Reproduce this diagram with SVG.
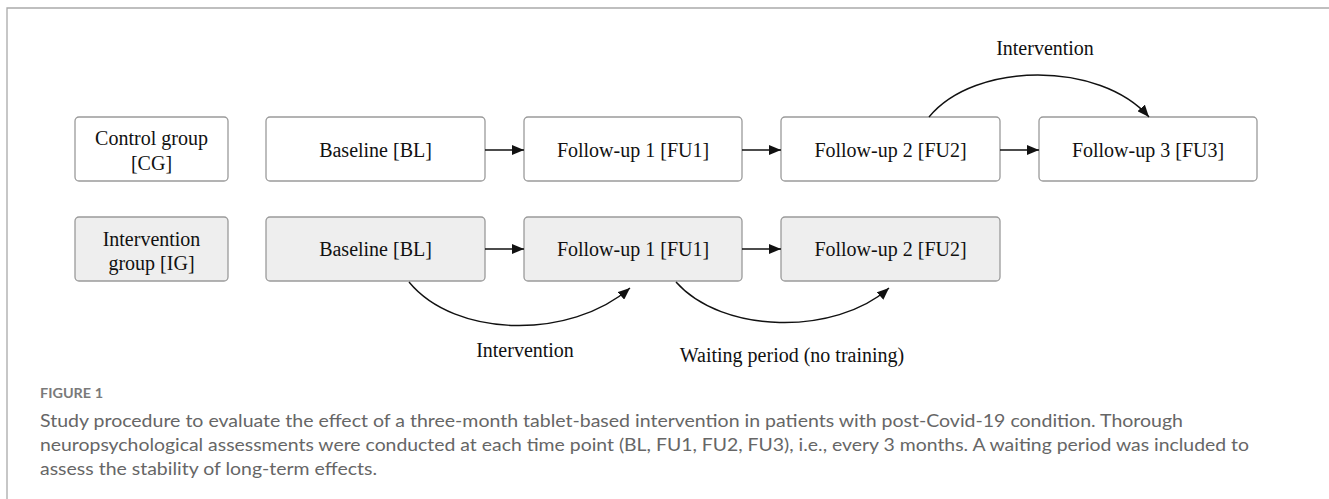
<svg xmlns="http://www.w3.org/2000/svg" width="1329" height="499" viewBox="0 0 1329 499">
<style>
.box{fill:#fff;stroke:#9a9a9a;stroke-width:1.3}
.boxg{fill:#eeeeee;stroke:#9a9a9a;stroke-width:1.3}
.t{font-family:"Liberation Serif","Times New Roman",serif;font-size:20px;fill:#111;text-anchor:middle}
.c{fill:none;stroke:#111;stroke-width:1.4}
.cap{font-family:"Lato","Open Sans",sans-serif;font-size:18px;fill:#666}
.fig{font-family:"Lato","Open Sans",sans-serif;font-size:14px;font-weight:bold;fill:#7a7a7a}
.frame{stroke:#aaa;stroke-width:1.3;fill:none}
</style>
<defs>
<marker id="ah" markerUnits="userSpaceOnUse" markerWidth="13" markerHeight="10" refX="12" refY="5" orient="auto">
<path d="M0,0 L12,5 L0,10 Z" fill="#111"/>
</marker>
</defs>
<rect width="1329" height="499" fill="#fff"/>
<path class="frame" d="M7,499 V8 H1329"/>
<g id="cg"><rect class="box" x="75" y="117" width="153" height="64" rx="4"/><text class="t" x="151.5" y="145">Control group</text><text class="t" x="151.5" y="170">[CG]</text></g>
<g id="cg-bl"><rect class="box" x="266" y="117" width="219" height="64" rx="4"/><text class="t" x="375.5" y="157">Baseline [BL]</text></g>
<g id="cg-fu1"><rect class="box" x="524" y="117" width="218" height="64" rx="4"/><text class="t" x="633" y="157">Follow-up 1 [FU1]</text></g>
<g id="cg-fu2"><rect class="box" x="781" y="117" width="219" height="64" rx="4"/><text class="t" x="890.5" y="157">Follow-up 2 [FU2]</text></g>
<g id="cg-fu3"><rect class="box" x="1039" y="117" width="218" height="64" rx="4"/><text class="t" x="1148" y="157">Follow-up 3 [FU3]</text></g>
<g id="ig"><rect class="boxg" x="75" y="217" width="153" height="64" rx="4"/><text class="t" x="151.5" y="246">Intervention</text><text class="t" x="151.5" y="270">group [IG]</text></g>
<g id="ig-bl"><rect class="boxg" x="266" y="217" width="219" height="64" rx="4"/><text class="t" x="375.5" y="256">Baseline [BL]</text></g>
<g id="ig-fu1"><rect class="boxg" x="524" y="217" width="218" height="64" rx="4"/><text class="t" x="633" y="256">Follow-up 1 [FU1]</text></g>
<g id="ig-fu2"><rect class="boxg" x="781" y="217" width="219" height="64" rx="4"/><text class="t" x="890.5" y="256">Follow-up 2 [FU2]</text></g>
<g id="connectors">
<path class="c" d="M485,150 H524" marker-end="url(#ah)"/>
<path class="c" d="M742,150 H781" marker-end="url(#ah)"/>
<path class="c" d="M1000,150 H1039" marker-end="url(#ah)"/>
<path class="c" d="M485,249 H524" marker-end="url(#ah)"/>
<path class="c" d="M742,249 H781" marker-end="url(#ah)"/>
<path class="c" d="M929,117 C975,61 1100,61 1149,117" marker-end="url(#ah)"/>
<path class="c" d="M409,282 C455,338 570,340 630,288" marker-end="url(#ah)"/>
<path class="c" d="M676,282 C722,334 835,336 889,288" marker-end="url(#ah)"/>
<text class="t" x="1045" y="55">Intervention</text>
<text class="t" x="525" y="357">Intervention</text>
<text class="t" x="792" y="362">Waiting period (no training)</text>
</g>
<text class="fig" x="40" y="398" textLength="63" lengthAdjust="spacingAndGlyphs">FIGURE 1</text>
<text class="cap" x="40" y="427" textLength="1143" lengthAdjust="spacingAndGlyphs">Study procedure to evaluate the effect of a three-month tablet-based intervention in patients with post-Covid-19 condition. Thorough</text>
<text class="cap" x="40" y="451" textLength="1209" lengthAdjust="spacingAndGlyphs">neuropsychological assessments were conducted at each time point (BL, FU1, FU2, FU3), i.e., every 3 months. A waiting period was included to</text>
<text class="cap" x="40" y="475" textLength="337" lengthAdjust="spacingAndGlyphs">assess the stability of long-term effects.</text>
</svg>
